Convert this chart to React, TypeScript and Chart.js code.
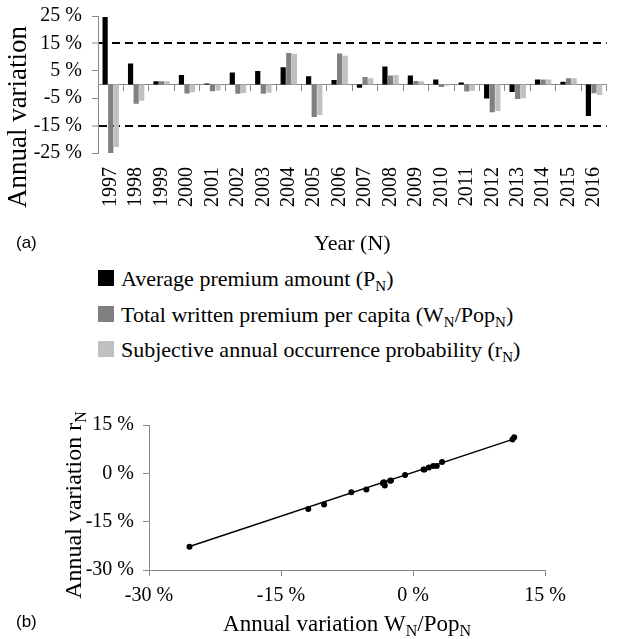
import React, { useEffect, useRef } from "react";
import { Chart, registerables } from "chart.js";

Chart.register(...registerables);

// ---------- data ----------
const years = ["1997", "1998", "1999", "2000", "2001", "2002", "2003", "2004", "2005", "2006", "2007", "2008", "2009", "2010", "2011", "2012", "2013", "2014", "2015", "2016"];
const premiumAmount = [24.6, 7.7, 1.2, 3.5, 0.4, 4.4, 4.9, 6.3, 3.0, 1.6, -1.2, 6.6, 3.3, 1.8, 0.7, -5.1, -2.7, 1.8, 1.0, -11.5];
const premiumPerCapita = [-25.4, -7.0, 1.2, -3.3, -2.5, -3.4, -3.4, 11.5, -11.9, 11.3, 2.7, 3.3, 1.3, -0.9, -2.6, -10.1, -5.3, 1.8, 2.3, -3.2];
const occurrenceProb = [-22.8, -5.9, 1.2, -2.8, -2.2, -3.1, -3.0, 11.2, -11.1, 10.5, 2.3, 3.5, 1.2, -0.5, -2.3, -9.7, -5.0, 1.8, 2.3, -3.8];
const barTicks = [-25, -15, -5, 5, 15, 25];
const thresholds = [-15, 15];
const scatterTicks = [-30, -15, 0, 15];
const trendX = [-25.4, 11.5];
const trendY = [-22.7, 10.7];

const SERIF = '"Liberation Serif", "Times New Roman", serif';
const C_BLACK = "#000000";
const C_DARK = "#808080";
const C_LIGHT = "#c0c0c0";
const AXIS = "#8a8a8a";

type Part = { t: string; sub?: boolean };
type TitleItem = { x: number; y: number; rot: number; size: number; parts: Part[] };

function titlesPlugin(getItems: (c: any) => TitleItem[]) {
  return {
    id: "manualTitles",
    afterDraw(chart: any) {
      const ctx = chart.ctx as CanvasRenderingContext2D;
      for (const it of getItems(chart)) {
        const subSize = Math.round(it.size * 0.68);
        const fMain = `${it.size}px ${SERIF}`;
        const fSub = `${subSize}px ${SERIF}`;
        let w = 0;
        const widths = it.parts.map((p) => {
          ctx.font = p.sub ? fSub : fMain;
          const m = ctx.measureText(p.t).width;
          w += m;
          return m;
        });
        ctx.save();
        ctx.translate(it.x, it.y);
        ctx.rotate(it.rot);
        ctx.fillStyle = "#000";
        ctx.textAlign = "left";
        ctx.textBaseline = "alphabetic";
        let cx = -w / 2;
        const base = it.size * 0.33;
        it.parts.forEach((p, i) => {
          ctx.font = p.sub ? fSub : fMain;
          ctx.fillText(p.t, cx, base + (p.sub ? it.size * 0.22 : 0));
          cx += widths[i];
        });
        ctx.restore();
      }
    },
  };
}

function BarChart() {
  const ref = useRef<HTMLCanvasElement | null>(null);
  useEffect(() => {
    if (!ref.current) return;
    const tickFont = { family: SERIF, size: 20 };
    const chart = new Chart(ref.current, {
      type: "bar",
      data: {
        labels: years,
        datasets: [
          { label: "Average premium amount (PN)", data: premiumAmount, backgroundColor: C_BLACK },
          { label: "Total written premium per capita (WN/PopN)", data: premiumPerCapita, backgroundColor: C_DARK },
          { label: "Subjective annual occurrence probability (rN)", data: occurrenceProb, backgroundColor: C_LIGHT },
        ],
      },
      options: {
        responsive: false,
        animation: false,
        layout: { padding: { top: 16, left: 0, right: 0, bottom: 0 } },
        datasets: { bar: { categoryPercentage: 0.66, barPercentage: 0.93 } },
        plugins: { legend: { display: false }, tooltip: { enabled: false } },
        scales: {
          x: {
            type: "category",
            position: "bottom",
            offset: true,
            grid: { display: false, drawTicks: false },
            border: { display: false },
            ticks: { autoSkip: false, minRotation: 90, maxRotation: 90, padding: 14, color: "#000", font: tickFont },
            afterFit: (s: any) => { s.height = 107; },
          },
          x2: {
            type: "category",
            axis: "x",
            position: { y: 0 },
            offset: true,
            grid: { display: true, offset: true, drawOnChartArea: false, drawTicks: true, tickLength: 6, color: AXIS, tickColor: AXIS },
            border: { display: true, color: AXIS, width: 1 },
            ticks: { display: false },
          },
          y: {
            type: "linear",
            min: -25,
            max: 25,
            afterBuildTicks: (s: any) => { s.ticks = barTicks.map((v) => ({ value: v })); },
            ticks: { autoSkip: false, callback: (v: any) => `${v} %`, padding: 10, color: "#000", font: tickFont },
            grid: {
              color: (c: any) => (thresholds.includes(c.tick?.value) ? "#000" : "rgba(0,0,0,0)"),
              lineWidth: (c: any) => (thresholds.includes(c.tick?.value) ? 2 : 1),
              drawTicks: true,
              tickLength: 6,
              tickColor: AXIS,
              tickWidth: 1,
            },
            border: { display: true, color: AXIS, width: 1, dash: [8, 5] },
            afterFit: (s: any) => { s.width = 98; s.paddingTop = 0; s.paddingBottom = 0; },
          },
        },
      },
      plugins: [
        titlesPlugin((c) => [
          { x: 17, y: 117, rot: -Math.PI / 2, size: 27, parts: [{ t: "Annual variation" }] },
          { x: (c.chartArea.left + c.chartArea.right) / 2, y: 243, rot: 0, size: 22, parts: [{ t: "Year (N)" }] },
        ]),
      ],
    } as any);
    return () => chart.destroy();
  }, []);
  return <canvas ref={ref} width={632} height={260} style={{ width: 632, height: 260, display: "block" }} />;
}

function ScatterChart() {
  const ref = useRef<HTMLCanvasElement | null>(null);
  useEffect(() => {
    if (!ref.current) return;
    const tickFont = { family: SERIF, size: 20 };
    const points = premiumPerCapita.map((x, i) => ({ x, y: occurrenceProb[i] }));
    const trend = trendX.map((x, i) => ({ x, y: trendY[i] }));
    const chart = new Chart(ref.current, {
      type: "scatter",
      data: {
        datasets: [
          { label: "trend", data: trend, showLine: true, borderColor: "#000", borderWidth: 1.5, pointRadius: 0 },
          { label: "years", data: points, backgroundColor: "#000", borderColor: "#000", pointRadius: 3, pointBorderWidth: 0 },
        ],
      },
      options: {
        responsive: false,
        animation: false,
        layout: { padding: { top: 35, left: 0, right: 87, bottom: 0 } },
        plugins: { legend: { display: false }, tooltip: { enabled: false } },
        scales: {
          x: {
            type: "linear",
            min: -30,
            max: 15,
            afterBuildTicks: (s: any) => { s.ticks = scatterTicks.map((v) => ({ value: v })); },
            ticks: { autoSkip: false, callback: (v: any) => `${v} %`, padding: 8, color: "#000", font: tickFont },
            grid: { drawOnChartArea: false, drawTicks: true, tickLength: 6, tickColor: AXIS },
            border: { display: true, color: AXIS, width: 1 },
            afterFit: (s: any) => { s.height = 69; },
          },
          y: {
            type: "linear",
            min: -30,
            max: 15,
            afterBuildTicks: (s: any) => { s.ticks = scatterTicks.map((v) => ({ value: v })); },
            ticks: { autoSkip: false, callback: (v: any) => `${v} %`, padding: 9, color: "#000", font: tickFont },
            grid: { drawOnChartArea: false, drawTicks: true, tickLength: 6, tickColor: AXIS },
            border: { display: true, color: AXIS, width: 1 },
            afterFit: (s: any) => { s.width = 149; },
          },
        },
      },
      plugins: [
        titlesPlugin((c) => [
          { x: 73, y: 115, rot: -Math.PI / 2, size: 24, parts: [{ t: "Annual variation r" }, { t: "N", sub: true }] },
          {
            x: (c.chartArea.left + c.chartArea.right) / 2,
            y: 233,
            rot: 0,
            size: 23,
            parts: [{ t: "Annual variation W" }, { t: "N", sub: true }, { t: "/Pop" }, { t: "N", sub: true }],
          },
        ]),
      ],
    } as any);
    return () => chart.destroy();
  }, []);
  return <canvas ref={ref} width={632} height={249} style={{ width: 632, height: 249, display: "block" }} />;
}

const subStyle: React.CSSProperties = { fontSize: "15px", verticalAlign: "-5px", lineHeight: 0 };

function LegendRow({ top, color, children }: { top: number; color: string; children: React.ReactNode }) {
  return (
    <div style={{ position: "absolute", left: 98, top, font: `22px ${SERIF}`, lineHeight: "26px", whiteSpace: "nowrap", color: "#000" }}>
      <span style={{ display: "inline-block", width: 16, height: 16, background: color, marginRight: 7 }} />
      {children}
    </div>
  );
}

export default function App() {
  return (
    <div style={{ position: "absolute", left: 0, top: 0, width: 632, height: 639, background: "#fff", overflow: "hidden" }}>
      <div style={{ position: "absolute", left: 0, top: 0 }}>
        <BarChart />
      </div>
      <div style={{ position: "absolute", left: 16, top: 233, font: '17px "Liberation Sans", Arial, sans-serif', color: "#000" }}>(a)</div>
      <LegendRow top={266} color={C_BLACK}>
        Average premium amount (P<sub style={subStyle}>N</sub>)
      </LegendRow>
      <LegendRow top={302} color={C_DARK}>
        Total written premium per capita (W<sub style={subStyle}>N</sub>/Pop<sub style={subStyle}>N</sub>)
      </LegendRow>
      <LegendRow top={337} color={C_LIGHT}>
        Subjective annual occurrence probability (r<sub style={subStyle}>N</sub>)
      </LegendRow>
      <div style={{ position: "absolute", left: 0, top: 390 }}>
        <ScatterChart />
      </div>
      <div style={{ position: "absolute", left: 16, top: 612, font: '17px "Liberation Sans", Arial, sans-serif', color: "#000" }}>(b)</div>
    </div>
  );
}
